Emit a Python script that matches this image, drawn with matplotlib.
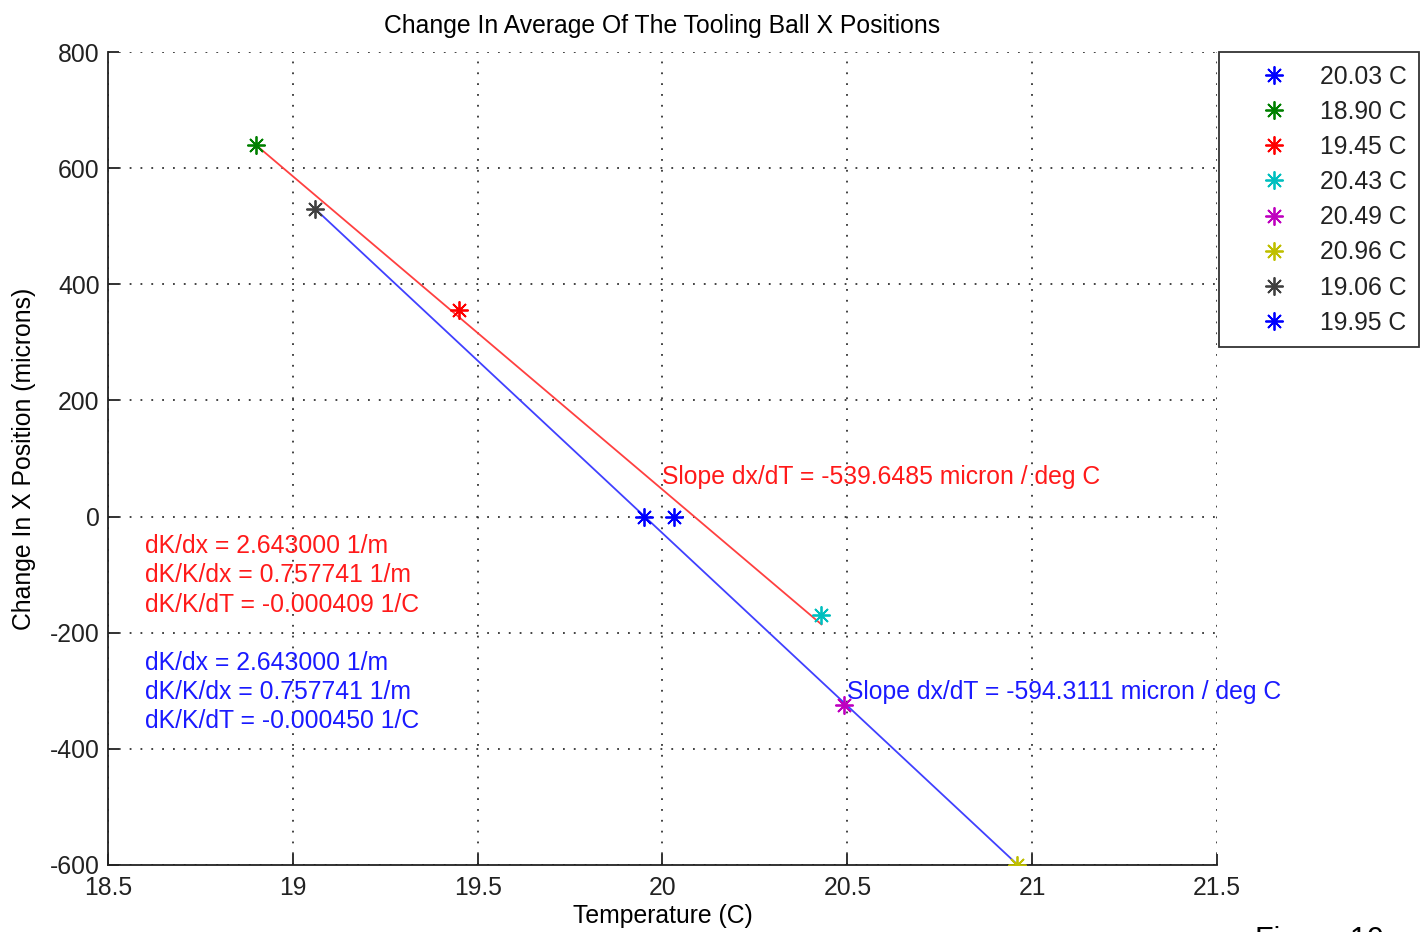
import numpy as np
import matplotlib.pyplot as plt

plt.rcParams['font.family'] = ['Liberation Sans', 'DejaVu Sans']
plt.rcParams['axes.unicode_minus'] = False

# measured points (temperature C, change in X position microns)
temps = [20.03, 18.90, 19.45, 20.43, 20.49, 20.96, 19.06, 19.95]
dx = [0, 639, 356, -169, -324, -600, 529, 0]
labels = ['20.03 C', '18.90 C', '19.45 C', '20.43 C', '20.49 C', '20.96 C', '19.06 C', '19.95 C']
colors = ['#0000ff', '#008000', '#ff0000', '#00bfbf', '#bf00bf', '#bfbf00', '#404040', '#0000ff']

# fit lines: start point and slope
red_x = [18.90, 20.43]
red_y0 = 640
red_slope = -539.6485
blue_x = [19.06, 20.96]
blue_y0 = 530
blue_slope = -594.3111

red_notes = ['dK/dx = 2.643000 1/m', 'dK/K/dx = 0.757741 1/m', 'dK/K/dT = -0.000409 1/C']
blue_notes = ['dK/dx = 2.643000 1/m', 'dK/K/dx = 0.757741 1/m', 'dK/K/dT = -0.000450 1/C']

fs = 17.8

fig = plt.figure(figsize=(14.28, 9.32), dpi=100)
ax = fig.add_axes([108/1428, 67/932, 1109/1428, 813/932])

rx = np.array(red_x)
ax.plot(rx, red_y0 + red_slope*(rx - rx[0]), color='#ff4040', lw=1.3, zorder=2)
bx = np.array(blue_x)
ax.plot(bx, blue_y0 + blue_slope*(bx - bx[0]), color='#4040ff', lw=1.3, zorder=2)

for t, d, c, l in zip(temps, dx, colors, labels):
    ax.plot(t, d, linestyle='none', marker=(8, 2, 0), markersize=13, mew=1.3,
            color=c, label=l, zorder=3)

ax.text(20.0, 69, 'Slope dx/dT = %.4f micron / deg C' % red_slope, color='#ff1a1a',
        fontsize=fs, va='center', ha='left')
ax.text(20.5, -302, 'Slope dx/dT = %.4f micron / deg C' % blue_slope, color='#1a1aff',
        fontsize=fs, va='center', ha='left')
for i, s in enumerate(red_notes):
    ax.text(18.6, -50 - 51*i, s, color='#ff1a1a', fontsize=fs, va='center')
for i, s in enumerate(blue_notes):
    ax.text(18.6, -252 - 50*i, s, color='#1a1aff', fontsize=fs, va='center')

ax.set_xlim(18.5, 21.5)
ax.set_ylim(-600, 800)
ax.set_xticks(np.arange(18.5, 21.51, 0.5))
ax.set_xticklabels(['18.5', '19', '19.5', '20', '20.5', '21', '21.5'])
ax.set_yticks(np.arange(-600, 801, 200))
ax.grid(True, color='#333333', linestyle=(0, (1, 5)), linewidth=1.3)
for side in ['top', 'right']:
    ax.spines[side].set_visible(False)
for side in ['left', 'bottom']:
    ax.spines[side].set_linewidth(1.3)
    ax.spines[side].set_color('#222222')
ax.tick_params(direction='in', length=8, width=1.3, labelsize=fs, colors='#222222', pad=6)
ax.tick_params(axis='x', pad=8)

ax.set_title('Change In Average Of The Tooling Ball X Positions', fontsize=fs, pad=14)
ax.set_xlabel('Temperature (C)', fontsize=fs, labelpad=3)
ax.set_ylabel('Change In X Position (microns)', fontsize=fs, labelpad=10)

leg = ax.legend(loc='upper left', bbox_to_anchor=(1.0015, 0.9995), fontsize=fs,
                frameon=True, fancybox=False, edgecolor='black', borderpad=0.5,
                labelspacing=0.45, handletextpad=0.1, borderaxespad=0, markerfirst=True,
                handlelength=3.5)
leg.get_frame().set_linewidth(1.3)
for t in leg.get_texts():
    t.set_color('#222222')

fig.text(1255/1428, 6/932, 'Figure 10', fontsize=22, va='top', ha='left')

fig.savefig('out.png', dpi=100)
